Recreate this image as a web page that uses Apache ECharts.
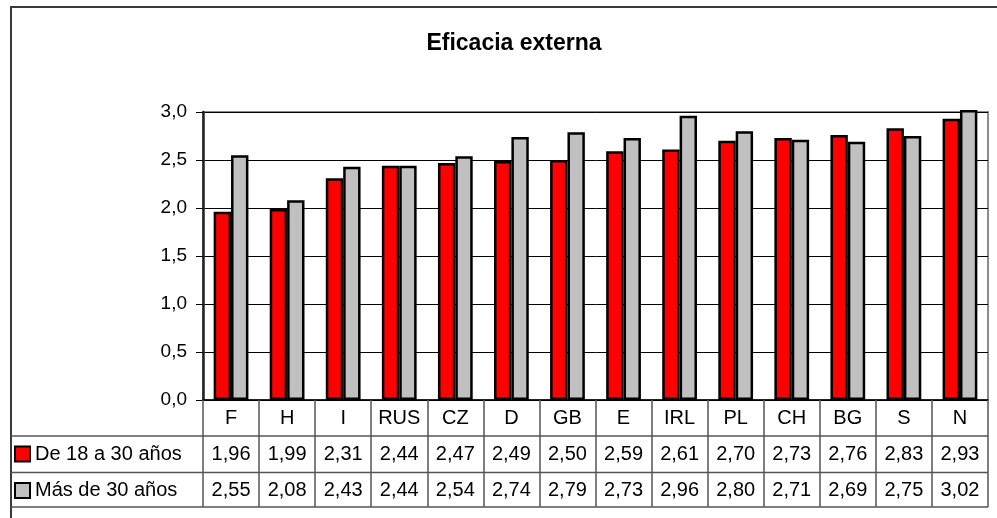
<!DOCTYPE html>
<html>
<head>
<meta charset="utf-8">
<script src="https://cdn.jsdelivr.net/npm/echarts@6/dist/echarts.min.js"></script>
<style>
  html, body { margin: 0; padding: 0; background: #fff; }
  #chart { width: 997px; height: 518px; }
</style>
</head>
<body>
<div id="chart"></div>
<script>
// Países (eje de categorías)
var categories = ['F', 'H', 'I', 'RUS', 'CZ', 'D', 'GB', 'E', 'IRL', 'PL', 'CH', 'BG', 'S', 'N'];
// Valores por grupo de edad
var youngLabel = 'De 18 a 30 años';
var youngValues = [1.96, 1.99, 2.31, 2.44, 2.47, 2.49, 2.50, 2.59, 2.61, 2.70, 2.73, 2.76, 2.83, 2.93];
var olderLabel = 'Más de 30 años';
var olderValues = [2.55, 2.08, 2.43, 2.44, 2.54, 2.74, 2.79, 2.73, 2.96, 2.80, 2.71, 2.69, 2.75, 3.02];
// Marcas del eje Y
var yTicks = [0, 0.5, 1.0, 1.5, 2.0, 2.5, 3.0];

var FONT = "'Liberation Sans', Arial, sans-serif";
var fmt2 = function (v) { return v.toFixed(2).replace('.', ','); };
var fmt1 = function (v) { return v.toFixed(1).replace('.', ','); };

var chart = echarts.init(document.getElementById('chart'), null, { renderer: 'canvas' });

// Tabla de datos bajo el eje: categoría + valor de cada serie
var tableLabel = function (value, idx) {
  return '{c|' + value + '}\n{v|' + fmt2(youngValues[idx]) + '}\n{v|' + fmt2(olderValues[idx]) + '}';
};

var gridLeft = 203, gridTop = 112, gridRight = 988, gridBottom = 400;
var row1 = 436, row2 = 472.5, row3 = 507;

var option = {
  animation: false,
  backgroundColor: '#ffffff',
  textStyle: { fontFamily: FONT },
  title: {
    text: 'Eficacia externa',
    left: 509,
    top: 27,
    textAlign: 'center',
    textStyle: { fontFamily: FONT, fontSize: 23, fontWeight: 'bold', color: '#000' }
  },
  legend: {
    orient: 'vertical',
    left: 14,
    top: 444,
    padding: 0,
    itemWidth: 15,
    itemHeight: 15,
    itemGap: 16.5,
    icon: 'rect',
    selectedMode: false,
    textStyle: { fontFamily: FONT, fontSize: 20, color: '#000', lineHeight: 20 },
    itemStyle: { borderColor: '#000', borderWidth: 2 },
    data: [youngLabel, olderLabel]
  },
  grid: {
    left: gridLeft,
    top: gridTop,
    right: 997 - gridRight,
    bottom: 518 - gridBottom,
    show: true,
    borderColor: '#8c8c8c',
    borderWidth: 2,
    backgroundColor: 'transparent'
  },
  xAxis: {
    type: 'category',
    data: categories,
    boundaryGap: true,
    axisLine: { lineStyle: { color: '#000', width: 1.5 } },
    axisTick: {
      show: true,
      interval: 0,
      alignWithLabel: false,
      length: row3 - gridBottom,
      lineStyle: { color: '#555', width: 1.5 }
    },
    axisLabel: {
      interval: 0,
      margin: 0,
      formatter: tableLabel,
      rich: {
        c: { fontFamily: FONT, fontSize: 20, color: '#000', lineHeight: 36, height: 36, align: 'center' },
        v: { fontFamily: FONT, fontSize: 20, color: '#000', lineHeight: 36.5, height: 36.5, align: 'center' }
      }
    }
  },
  yAxis: {
    type: 'value',
    min: yTicks[0],
    max: yTicks[yTicks.length - 1],
    interval: 0.5,
    axisLine: { show: true, lineStyle: { color: '#222', width: 2.5 } },
    axisTick: { show: true, length: 7, lineStyle: { color: '#000', width: 1 } },
    axisLabel: {
      margin: 16,
      fontFamily: FONT,
      fontSize: 19,
      color: '#000',
      formatter: function (v) { return fmt1(v); }
    },
    splitLine: { show: true, lineStyle: { color: '#000', width: 1 } }
  },
  series: [
    {
      name: youngLabel,
      type: 'bar',
      data: youngValues,
      clip: false,
      barGap: '0%',
      barCategoryGap: '38%',
      itemStyle: { color: '#ff0000', borderColor: '#000', borderWidth: 2.5 }
    },
    {
      name: olderLabel,
      type: 'bar',
      data: olderValues,
      clip: false,
      barGap: '0%',
      barCategoryGap: '38%',
      itemStyle: { color: '#c0c0c0', borderColor: '#000', borderWidth: 2.5 }
    }
  ],
  graphic: [
    // marco exterior del gráfico
    {
      type: 'rect',
      silent: true,
      shape: { x: 11, y: 7, width: 1100, height: 600 },
      style: { fill: 'none', stroke: '#3a3a3a', lineWidth: 2 }
    },
    // líneas horizontales de la tabla de datos
    {
      type: 'line', silent: true,
      shape: { x1: 11, y1: row1, x2: gridRight, y2: row1 },
      style: { stroke: '#555', lineWidth: 1.5 }
    },
    {
      type: 'line', silent: true,
      shape: { x1: 11, y1: row2, x2: gridRight, y2: row2 },
      style: { stroke: '#555', lineWidth: 1.5 }
    },
    {
      type: 'line', silent: true,
      shape: { x1: 11, y1: row3, x2: gridRight, y2: row3 },
      style: { stroke: '#555', lineWidth: 1.5 }
    }
  ]
};

chart.setOption(option);
</script>
</body>
</html>
